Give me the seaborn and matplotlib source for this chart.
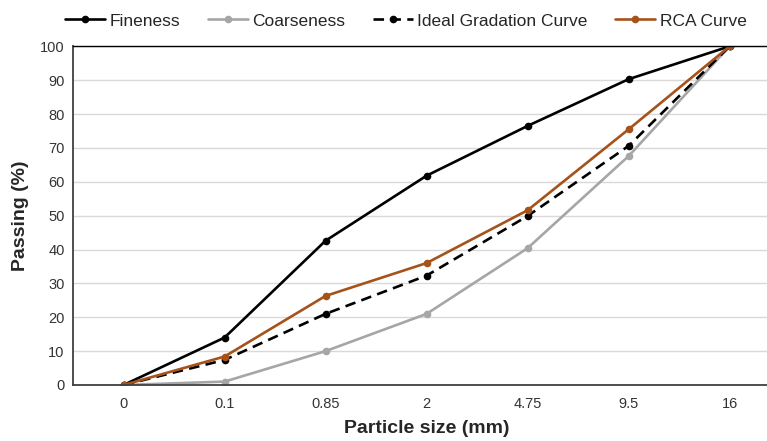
import numpy as np
import pandas as pd
import seaborn as sns
import matplotlib.pyplot as plt

# Sieve sizes (mm) shown as categories
sizes = ["0", "0.1", "0.85", "2", "4.75", "9.5", "16"]

# Percent passing for each curve
fineness = [0, 14, 42.6, 61.8, 76.5, 90.3, 100]
coarseness = [0, 1, 10, 21, 40.4, 67.6, 100]
ideal = [0, 7.4, 21, 32.3, 49.9, 70.6, 100]
rca = [0, 8.4, 26.3, 36, 51.6, 75.5, 100]

series_names = ["Fineness", "Coarseness", "Ideal Gradation Curve", "RCA Curve"]
series_values = [fineness, coarseness, ideal, rca]
colors = ["#000000", "#A6A6A6", "#000000", "#A5521B"]
dashes = [None, None, (4.0, 2.4), None]

sns.set_theme(style="white")
plt.rcParams["font.family"] = ["Liberation Sans", "DejaVu Sans"]

pos = np.arange(len(sizes))
df = pd.DataFrame({
    "pos": np.tile(pos, len(series_names)),
    "passing": np.concatenate(series_values),
    "curve": np.repeat(series_names, len(sizes)),
})

fig = plt.figure(figsize=(7.67, 4.41), dpi=100)
ax = fig.add_axes([0.0952, 0.127, 0.922, 0.768])

ax.yaxis.grid(True, color="#D9D9D9", linewidth=1.0)
ax.set_axisbelow(True)

for name, col, ds in zip(series_names, colors, dashes):
    sub = df[df["curve"] == name]
    sns.lineplot(data=sub, x="pos", y="passing", ax=ax, color=col,
                 linewidth=1.9, marker="o", markersize=5.5,
                 markeredgewidth=0, label=name, legend=False)
    if ds is not None:
        ax.lines[-1].set_dashes(ds)

ax.set_xlim(-0.5, len(sizes) - 0.5)
ax.set_ylim(0, 100)
ax.set_xticks(pos)
ax.set_xticklabels(sizes)
ax.set_yticks(np.arange(0, 101, 10))
ax.tick_params(axis="both", labelsize=10.5, colors="#333333", length=0, pad=6)
ax.tick_params(axis="x", pad=9)

for side in ["left", "bottom", "top"]:
    ax.spines[side].set_visible(True)
    ax.spines[side].set_color("#000000" if side == "top" else "#404040")
    ax.spines[side].set_linewidth(1.0 if side == "top" else 1.3)
ax.spines["right"].set_visible(False)

ax.set_xlabel("Particle size (mm)", fontsize=14, fontweight="bold", labelpad=6)
ax.set_ylabel("Passing (%)", fontsize=14, fontweight="bold", labelpad=8)

handles, labels = ax.get_legend_handles_labels()
fig.legend(handles, labels, loc="upper center", bbox_to_anchor=(0.529, 1.005),
           ncol=4, frameon=False, fontsize=12.5, handlelength=2.3,
           handletextpad=0.25, columnspacing=1.6)

fig.savefig("out.png", dpi=100)
